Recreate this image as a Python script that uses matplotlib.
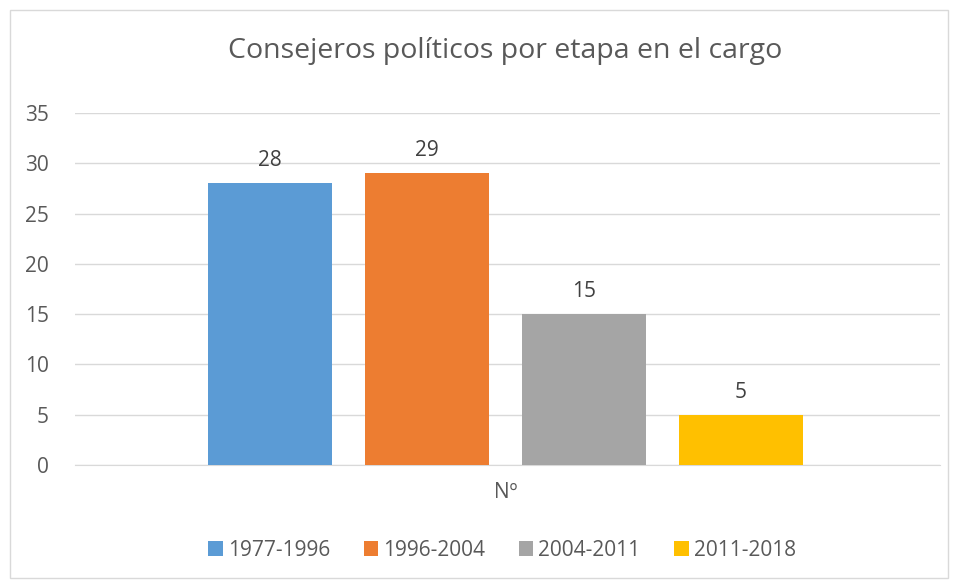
import matplotlib
matplotlib.use("Agg")
import matplotlib.pyplot as plt
from matplotlib.patches import Rectangle

plt.rcParams['font.family'] = ['Open Sans', 'DejaVu Sans']

title = "Consejeros políticos por etapa en el cargo"
category = "Nº"
series = ["1977-1996", "1996-2004", "2004-2011", "2011-2018"]
values = [28, 29, 15, 5]
colors = ["#5B9BD5", "#ED7D31", "#A5A5A5", "#FFC000"]
yticks = [0, 5, 10, 15, 20, 25, 30, 35]

FS = 15
W, H = 955, 581
fig = plt.figure(figsize=(W/100, H/100), dpi=100)
fig.patches.append(Rectangle((10/W, 3/H), 938/W, 568/H, transform=fig.transFigure,
                             fill=False, edgecolor="#D9D9D9", linewidth=1))

ax = fig.add_axes([75/W, (581-465)/H, 865/W, 352/H])
xs = [0, 1, 2, 3]
bars = ax.bar(xs, values, width=0.79, color=colors, label=series, zorder=3)
for x, v in zip(xs, values):
    ax.text(x, v + 1.2, str(v), ha="center", va="bottom", fontsize=FS, color="#404040")

ax.set_xlim(-1.242, 4.268)
ax.set_ylim(0, 35)
ax.set_yticks(yticks)
ax.set_xticks([1.5])
ax.set_xticklabels([category])
ax.tick_params(axis="both", length=0, labelsize=FS, colors="#595959")
ax.tick_params(axis="x", pad=12)
ax.tick_params(axis="y", pad=19)
ax.yaxis.grid(True, color="#D9D9D9", linewidth=1, zorder=0)
for s in ["left", "right", "top"]:
    ax.spines[s].set_visible(False)
ax.spines["bottom"].set_color("#D9D9D9")

fig.text(505/W, 1 - 51/H, title, ha="center", va="center", fontsize=20.5, color="#595959")

leg = fig.legend(handles=bars, labels=series, loc="center", bbox_to_anchor=(502/W, 1 - 550/H),
                 ncol=4, frameon=False, fontsize=FS, handlelength=0.7, handleheight=0.7,
                 handletextpad=0.25, columnspacing=1.6, labelcolor="#595959")

fig.savefig("out.png", dpi=100)
